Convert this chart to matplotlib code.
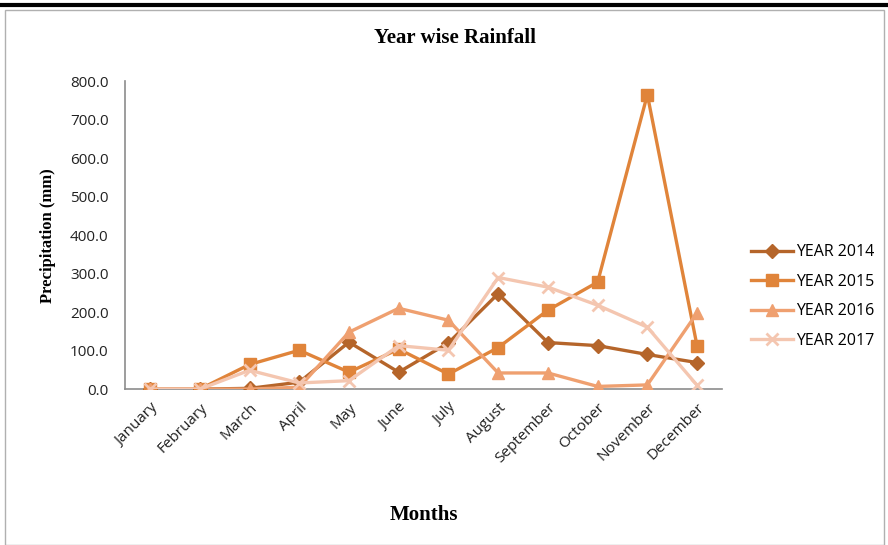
import matplotlib

matplotlib.use("Agg")
import matplotlib.pyplot as plt
from matplotlib.patches import Rectangle
from matplotlib.lines import Line2D

months = ["January", "February", "March", "April", "May", "June", "July",
          "August", "September", "October", "November", "December"]

rain_2014 = [0, 0, 2, 18, 122, 44, 120, 248, 121, 113, 90, 69]
rain_2015 = [0, 0, 64, 101, 44, 104, 39, 108, 205, 278, 765, 112]
rain_2016 = [0, 0, 0, 5, 148, 210, 179, 42, 42, 7, 11, 198]
rain_2017 = [0, 0, 49, 16, 22, 113, 101, 290, 265, 218, 161, 10]

series = [
    ("YEAR 2014", rain_2014, "#B5652A", "D", 7),
    ("YEAR 2015", rain_2015, "#E0843A", "s", 9),
    ("YEAR 2016", rain_2016, "#EFA070", "^", 9),
    ("YEAR 2017", rain_2017, "#F4C6B0", "x", 8),
]

serif = ["Liberation Serif", "DejaVu Serif"]
sans = ["Open Sans", "DejaVu Sans"]

fig = plt.figure(figsize=(8.88, 5.45), dpi=100)
ax = fig.add_axes([0.141, 0.286, 0.672, 0.565])

x = list(range(len(months)))
handles = []
for label, vals, color, marker, ms in series:
    mew = 2 if marker == "x" else 1
    (ln,) = ax.plot(x, vals, color=color, linewidth=2.4, marker=marker,
                    markersize=ms, markerfacecolor=color, markeredgecolor=color,
                    markeredgewidth=mew, label=label, zorder=3)
    handles.append(ln)

ax.set_xlim(-0.5, len(months) - 0.5)
ax.set_ylim(0, 800)
ax.set_yticks(range(0, 801, 100))
ax.set_yticklabels([f"{v:.1f}" for v in range(0, 801, 100)],
                   family=sans, fontsize=11, color="#222222")
ax.set_xticks(x)
ax.set_xticklabels(months, rotation=45, ha="right", rotation_mode="anchor",
                   family=sans, fontsize=11, color="#222222")
ax.tick_params(axis="y", length=0, pad=12)
ax.tick_params(axis="x", length=0, pad=8)

for side in ("top", "right"):
    ax.spines[side].set_visible(False)
for side in ("left", "bottom"):
    ax.spines[side].set_color("#8c8c8c")
    ax.spines[side].set_linewidth(1.2)

ax.set_ylabel("Precipitation (mm)", family=serif, fontweight="bold",
              fontsize=12, labelpad=10)
ax.set_xlabel("Months", family=serif, fontweight="bold", fontsize=15,
              labelpad=28)
fig.text(0.512, 0.93, "Year wise Rainfall", family=serif, fontweight="bold",
         fontsize=15, ha="center", va="center")

fig.legend(handles=handles, loc="center left", bbox_to_anchor=(0.83, 0.456),
           frameon=False, prop={"family": sans, "size": 11.5},
           handlelength=2.6, labelspacing=0.85, handletextpad=0.2)

# frame around the chart area with a heavy rule on top
fig.add_artist(Rectangle((0.006, 0.0), 0.99, 0.982, transform=fig.transFigure,
                         fill=False, edgecolor="#b0b0b0", linewidth=1))
fig.add_artist(Line2D([0, 1], [0.991, 0.991], transform=fig.transFigure,
                      color="black", linewidth=3))

fig.savefig("out.png", dpi=100)
